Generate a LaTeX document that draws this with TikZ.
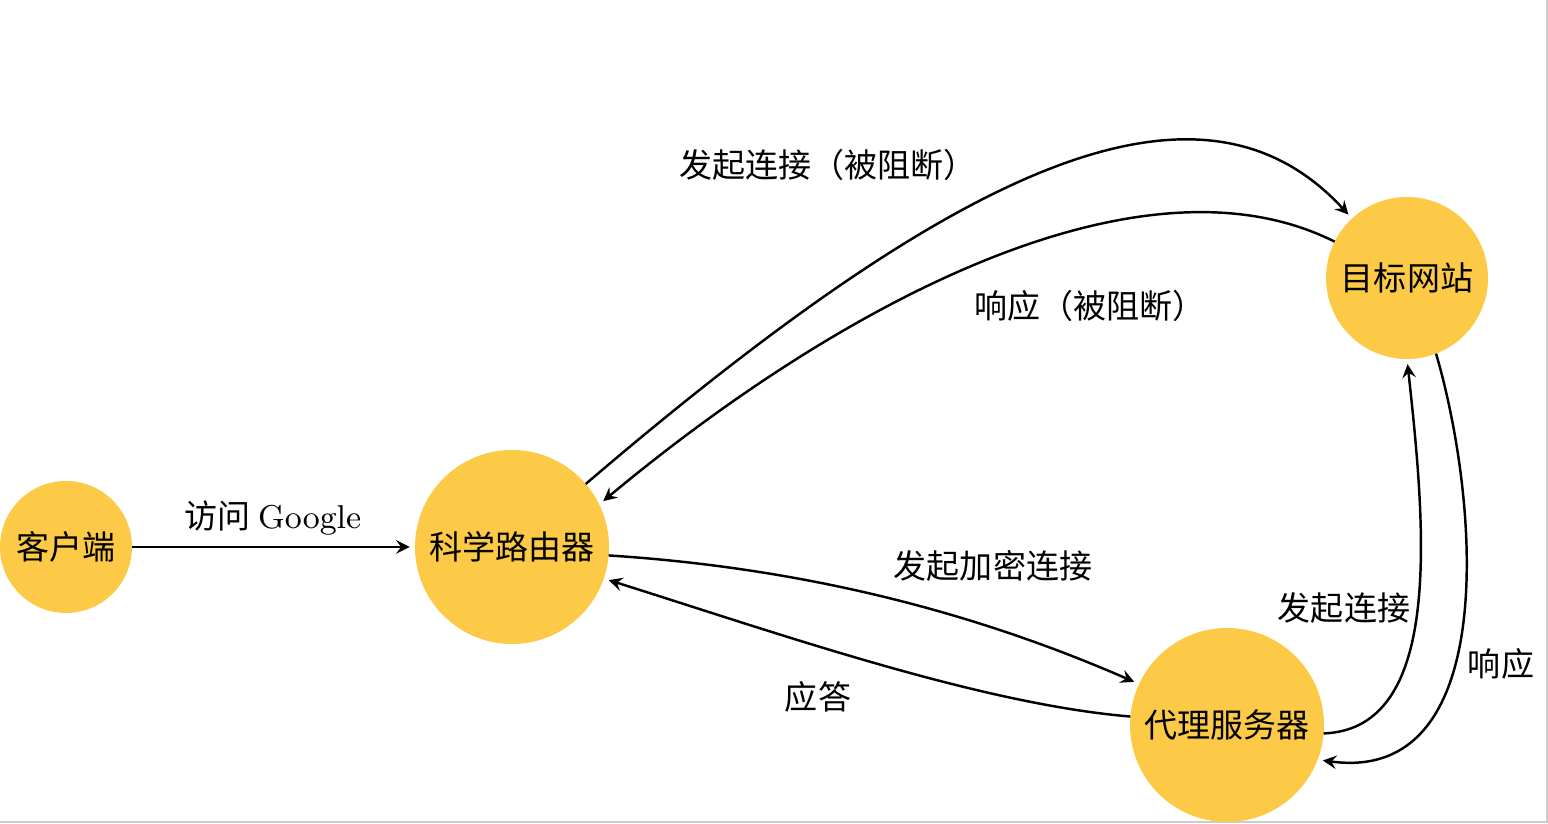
\documentclass[tikz,border=0pt]{standalone}
\usepackage{fontspec}
\newfontfamily\cjk{Noto Sans CJK SC}
\usetikzlibrary{arrows}
\definecolor{sunyellow}{RGB}{252,202,70}
\tikzset{
	site/.style={circle, fill=sunyellow, inner sep=0pt, outer sep=0pt, font=\cjk\fontsize{9.4}{11}\selectfont},
	tag/.style={font=\cjk\fontsize{9.4}{11}\selectfont},
	flow/.style={->, >=stealth, line width=0.7pt, shorten >=1.5pt}
}

\begin{document}
\begin{tikzpicture}
		%%%%% START %%%%%
		\useasboundingbox (0, 0) rectangle (15.48, 8.24);
		\draw[black!20, line width=0.8pt] (0, 0.02) -- (15.47, 0.02) -- (15.47, 8.24);
		
		\node[site, minimum size=1.32cm] (client) at (0.66, 2.77) {客户端};
		\node[site, minimum size=1.94cm] (router) at (5.12, 2.77) {科学路由器};
		\node[site, minimum size=1.62cm] (target) at (14.07, 5.46) {目标网站};
		\node[site, minimum size=1.94cm] (proxy) at (12.27, 0.99) {代理服务器};
		
		\node[tag] (visit) at (2.73, 3.06) {访问 {\rmfamily Google}};
		\node[tag] (blockedreq) at (8.28, 6.59) {发起连接（被阻断）};
		\node[tag] (blockedres) at (10.9, 5.18) {响应（被阻断）};
		\node[tag] (encrypted) at (9.93, 2.58) {发起加密连接};
		\node[tag] (answer) at (8.18, 1.27) {应答};
		\node[tag] (connect) at (13.44, 2.16) {发起连接};
		\node[tag] (reply) at (15.01, 1.60) {响应};
		
		\draw[flow] (client) -- (router);
		
		\draw[flow] (router) .. controls (9.6, 6.6) and (12.0, 7.7) .. (target);
		\draw[flow] (target) .. controls (11.4, 6.8) and (8.4, 5.2) .. (router.26);
		
		\draw[flow] (router.-5) .. controls (8.2, 2.55) and (9.9, 2.05) .. (proxy.155);
		\draw[flow] (proxy.175) .. controls (9.8, 1.2) and (7.8, 1.9) .. (router.-19);
		
		\draw[flow] (proxy.-5) .. controls (14.45, 0.95) and (14.25, 3.0) .. (target.south);
		\draw[flow] (target.-69) .. controls (14.8, 3.2) and (15.0, 0.4) .. (proxy.-21);
		%%%%% END %%%%%
	\end{tikzpicture}
\end{document}
